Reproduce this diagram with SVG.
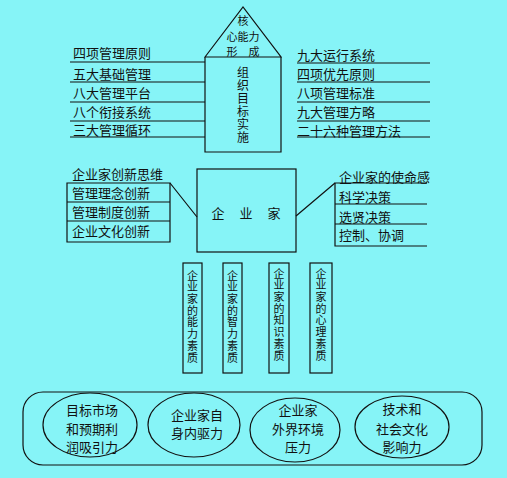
<svg xmlns="http://www.w3.org/2000/svg" width="507" height="478" viewBox="0 0 507 478">
<style>
.t{font-family:"Noto Sans CJK SC","Noto Sans",sans-serif;font-size:13px;fill:#111}
.c{text-anchor:middle}
.vt{writing-mode:vertical-rl;font-size:11px;letter-spacing:0.7px}
.h{font-size:12px}
.k{font-size:11px}
.s{fill:none;stroke:#111;stroke-width:1.2}
</style>
<rect width="507" height="478" fill="#86F4F7"/>
<g id="house">
<path class="s" d="M205,57 L243,7 L281,57 Z M205,57 V152 H281 V57"/>
<text class="t k c" x="243" y="25">核</text>
<text class="t k c" x="243" y="40.5">心能力</text>
<text class="t k c" x="243" y="56">形　成</text>
<text class="t h" style="writing-mode:vertical-rl;letter-spacing:1px" x="243" y="66">组织目标实施</text>
</g>
<g id="left-top">
<text class="t" x="73" y="58">四项管理原则</text>
<text class="t" x="73" y="79">五大基础管理</text>
<text class="t" x="73" y="98">八大管理平台</text>
<text class="t" x="73" y="117">八个衔接系统</text>
<text class="t" x="73" y="135">三大管理循环</text>
</g>
<g id="right-top">
<text class="t" x="297" y="60">九大运行系统</text>
<text class="t" x="297" y="79">四项优先原则</text>
<text class="t" x="297" y="98">八项管理标准</text>
<text class="t" x="297" y="117">九大管理方略</text>
<text class="t" x="297" y="136">二十六种管理方法</text>
</g>
<g id="entrepreneur">
<rect class="s" x="197" y="169" width="99" height="83"/>
<text class="t c" x="218" y="218">企</text><text class="t c" x="246" y="218">业</text><text class="t c" x="274" y="218">家</text>
</g>
<g id="left-mid">
<text class="t" x="72" y="179">企业家创新思维</text>
<path class="s" d="M67,183 H170 V242 H67 Z M67,202 H170 M67,221 H170"/>
<text class="t" x="72" y="198">管理理念创新</text>
<text class="t" x="72" y="217">管理制度创新</text>
<text class="t" x="72" y="236">企业文化创新</text>
</g>
<g id="right-mid">
<text class="t" x="339" y="182">企业家的使命感</text>
<path class="s" d="M427,183 H335 V246 H427 M335,204 H427 M335,224 H427"/>
<text class="t" x="339" y="202">科学决策</text>
<text class="t" x="339" y="222">选贤决策</text>
<text class="t" x="339" y="240">控制、协调</text>
</g>
<g id="q1"><rect class="s" x="183" y="263" width="19" height="110"/><text class="t vt" x="192.5" y="270">企业家的能力素质</text></g>
<g id="q2"><rect class="s" x="223" y="263" width="19" height="110"/><text class="t vt" x="232.5" y="270">企业家的智力素质</text></g>
<g id="q3"><rect class="s" x="269" y="263" width="20" height="110"/><text class="t vt" x="279" y="268">企业家的知识素质</text></g>
<g id="q4"><rect class="s" x="310" y="263" width="22" height="110"/><text class="t vt" x="321" y="268">企业家的心理素质</text></g>
<g id="forces">
<rect class="s" x="23" y="392" width="459" height="73" rx="20"/>
</g>
<g id="e1"><ellipse class="s" cx="90" cy="425" rx="47" ry="32"/>
<text class="t c" x="92" y="415">目标市场</text><text class="t c" x="92" y="434">和预期利</text><text class="t c" x="92" y="452">润吸引力</text></g>
<g id="e2"><ellipse class="s" cx="194" cy="425" rx="46" ry="32"/>
<text class="t c" x="197" y="420">企业家自</text><text class="t c" x="197" y="438">身内驱力</text></g>
<g id="e3"><ellipse class="s" cx="295" cy="430" rx="45" ry="32"/>
<text class="t c" x="298" y="415">企业家</text><text class="t c" x="298" y="434">外界环境</text><text class="t c" x="298" y="452">压力</text></g>
<g id="e4"><ellipse class="s" cx="402" cy="427" rx="47" ry="31"/>
<text class="t c" x="402" y="414">技术和</text><text class="t c" x="402" y="434">社会文化</text><text class="t c" x="402" y="452">影响力</text></g>
<g id="connectors">
<path class="s" d="M70,62 H205 M70,82 H205 M70,102 H205 M70,121 H205 M70,137 H205"/>
<path class="s" d="M297,63 H430 M297,82 H430 M297,102 H430 M297,121 H430 M297,137 H430"/>
<path class="s" d="M170,183 L197,217 M335,183 L296,216"/>
</g>
</svg>
